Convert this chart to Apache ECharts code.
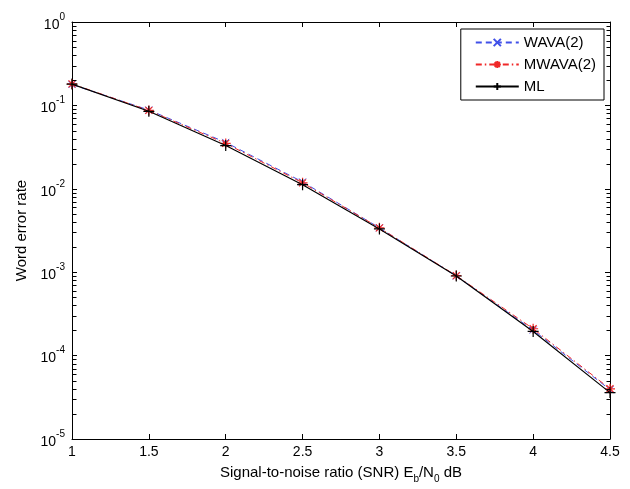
<!DOCTYPE html>
<html><head><meta charset="utf-8">
<script src="https://cdn.jsdelivr.net/npm/echarts@6/dist/echarts.min.js"></script>
<style>html,body{margin:0;padding:0;background:#fff}#c{width:630px;height:489px}</style>
</head><body><div id="c"></div>
<script>
const snr = [1, 1.5, 2, 2.5, 3, 3.5, 4, 4.5];
const wava = [0.178, 0.088, 0.036, 0.0121, 0.0034, 0.00090, 0.000202, 0.000039];
const mwava = [0.181, 0.087, 0.035, 0.0118, 0.0034, 0.00091, 0.000210, 0.000040];
const ml = [0.180, 0.085, 0.033, 0.0112, 0.0033, 0.00090, 0.000195, 0.000036];
const minorMultipliers = [2, 3, 4, 5, 6, 7, 8, 9];
const decades = [-5, -4, -3, -2, -1];

const FONT = "'Liberation Sans', Arial, sans-serif";
const BLUE = '#4050e8', RED = '#f02828', BLACK = '#000000';
const chart = echarts.init(document.getElementById('c'), null, {renderer: 'canvas'});

function mk(arr) { return snr.map((x, i) => [x, arr[i]]); }
const axisLine = {show: true, lineStyle: {color: '#000', width: 1}};
const tick = {show: true, inside: true, length: 5, lineStyle: {color: '#000', width: 1}};

const option = {
  animation: false,
  backgroundColor: '#fff',
  grid: {left: 72, right: 20, top: 22, bottom: 49, containLabel: false},
  legend: {
    orient: 'vertical', right: 26, top: 29, align: 'left',
    backgroundColor: '#fff', borderColor: '#000', borderWidth: 1, borderRadius: 0,
    padding: [6, 8, 6, 14], itemGap: 7, itemWidth: 43, itemHeight: 9,
    textStyle: {fontSize: 15, color: '#000', fontFamily: FONT},
    data: ['WAVA(2)', 'MWAVA(2)', 'ML']
  },
  xAxis: [
    {type: 'value', min: 1, max: 4.5, interval: 0.5, position: 'bottom',
     axisLine, axisTick: tick, splitLine: {show: false},
     axisLabel: {fontSize: 14, color: '#000', fontFamily: FONT, margin: 6},
     name: '{t|Signal-to-noise ratio (SNR) E}{s|b}{t|/N}{s|0}{t| dB}',
     nameLocation: 'middle', nameGap: 26,
     nameTextStyle: {fontFamily: FONT, color: '#000', rich: {
       t: {fontSize: 15, fontFamily: FONT, color: '#000', verticalAlign: 'top', padding: [0, 0, 4, 0]},
       s: {fontSize: 10, fontFamily: FONT, color: '#000', verticalAlign: 'bottom'}
     }}},
    {type: 'value', min: 1, max: 4.5, interval: 0.5, position: 'top',
     axisLine, axisTick: tick, axisLabel: {show: false}, splitLine: {show: false}}
  ],
  yAxis: [
    {type: 'log', logBase: 10, min: 1e-5, max: 1, position: 'left',
     axisLine, axisTick: tick, splitLine: {show: false}, minorTick: {show: false},
     axisLabel: {margin: 7, color: '#000', fontFamily: FONT,
       formatter: v => '{b|10}{s|' + Math.round(Math.log10(v)) + '}',
       rich: {
         b: {fontSize: 14, fontFamily: FONT, color: '#000', verticalAlign: 'bottom', padding: [6, 0, 0, 0]},
         s: {fontSize: 10, fontFamily: FONT, color: '#000', verticalAlign: 'top'}
       }},
     name: 'Word error rate', nameLocation: 'middle', nameGap: 42,
     nameTextStyle: {fontSize: 15, color: '#000', fontFamily: FONT}},
    {type: 'log', logBase: 10, min: 1e-5, max: 1, position: 'right',
     axisLine, axisTick: tick, axisLabel: {show: false}, splitLine: {show: false}}
  ],
  series: [
    {name: 'WAVA(2)', type: 'line', data: mk(wava), symbol: 'path://M0 0L10 10M0 10L10 0', symbolSize: 7,
     lineStyle: {color: BLUE, width: 1, type: [6, 4]},
     itemStyle: {color: BLUE, borderColor: BLUE, borderWidth: 1}, z: 2},
    {name: 'MWAVA(2)', type: 'line', data: mk(mwava), symbol: 'path://M5 0L5 10M0 5L10 5M1.5 1.5L8.5 8.5M1.5 8.5L8.5 1.5', symbolSize: 10,
     lineStyle: {color: RED, width: 1, type: [6, 3, 1.5, 3]},
     itemStyle: {color: RED, borderColor: RED, borderWidth: 1.2}, z: 3},
    {name: 'ML', type: 'line', data: mk(ml), symbol: 'path://M5 0L5 10M0 5L10 5', symbolSize: 11,
     lineStyle: {color: BLACK, width: 1.2, type: 'solid'},
     itemStyle: {color: BLACK, borderColor: BLACK, borderWidth: 1.2}, z: 4}
  ]
};
chart.setOption(option);

// minor ticks on log axes (MATLAB style, at 2..9 x 10^k), placed through the axis scale
const xl = Math.round(chart.convertToPixel({xAxisIndex: 0}, 1)) + 0.5;
const xr = Math.round(chart.convertToPixel({xAxisIndex: 0}, 4.5)) + 0.5;
const g = [];
decades.forEach(k => minorMultipliers.forEach(m => {
  const y = Math.round(chart.convertToPixel({yAxisIndex: 0}, m * Math.pow(10, k))) + 0.5;
  g.push({type: 'line', shape: {x1: xl, y1: y, x2: xl + 4, y2: y}, style: {stroke: '#000', lineWidth: 1}, z: 10});
  g.push({type: 'line', shape: {x1: xr, y1: y, x2: xr - 4, y2: y}, style: {stroke: '#000', lineWidth: 1}, z: 10});
}));
chart.setOption({graphic: g});
</script></body></html>
